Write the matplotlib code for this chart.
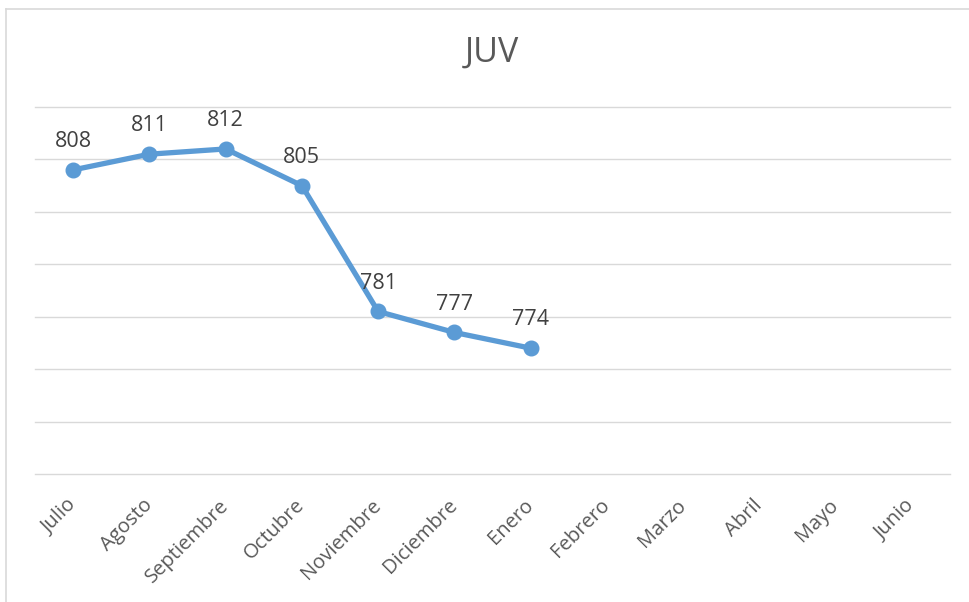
import matplotlib
matplotlib.use("Agg")
import matplotlib.pyplot as plt
from matplotlib.lines import Line2D

months = ["Julio", "Agosto", "Septiembre", "Octubre", "Noviembre", "Diciembre",
          "Enero", "Febrero", "Marzo", "Abril", "Mayo", "Junio"]
values = [808, 811, 812, 805, 781, 777, 774]
title = "JUV"
y_ticks = [750, 760, 770, 780, 790, 800, 810, 820]

plt.rcParams['font.family'] = ['Open Sans', 'DejaVu Sans']

W, H = 969, 602
fig = plt.figure(figsize=(W / 100, H / 100), dpi=100)
fig.patch.set_facecolor("white")

# chart border
fig.add_artist(Line2D([6 / W, 6 / W], [0, 1 - 9 / H], color="#D9D9D9", lw=1.2, transform=fig.transFigure))
fig.add_artist(Line2D([6 / W, 1], [1 - 9 / H, 1 - 9 / H], color="#D9D9D9", lw=1.2, transform=fig.transFigure))

ax = fig.add_axes([35 / W, 1 - 474 / H, (950 - 35) / W, (474 - 107) / H])
ax.set_xlim(-0.5, len(months) - 0.5)
ax.set_ylim(y_ticks[0], y_ticks[-1])
ax.set_yticks(y_ticks)
for yv in y_ticks:
    ax.axhline(yv, color="#D9D9D9", lw=1.0, clip_on=False, zorder=0)
for s in ax.spines.values():
    s.set_visible(False)
ax.tick_params(axis="y", left=False, labelleft=False)
ax.tick_params(axis="x", bottom=False, pad=17, labelsize=14.5, labelcolor="#595959")
ax.set_xticks(range(len(months)))
ax.set_xticklabels(months, rotation=45, ha="right", va="center", rotation_mode="anchor")
for lab in ax.get_xticklabels():
    lab.set_x(lab.get_position()[0])

xs = list(range(len(values)))
ax.plot(xs, values, color="#5B9BD5", lw=3.8, marker="o", markersize=10.5, solid_capstyle="round", clip_on=False, zorder=3)
for x, v in zip(xs, values):
    ax.annotate(str(v), (x, v), xytext=(0, 16.5), textcoords="offset points",
                ha="center", va="baseline", fontsize=15.5, color="#404040")

fig.text(492 / W, 1 - 53 / H, title, ha="center", va="center", fontsize=24.5, color="#595959")

fig.savefig("out.png", dpi=100)
